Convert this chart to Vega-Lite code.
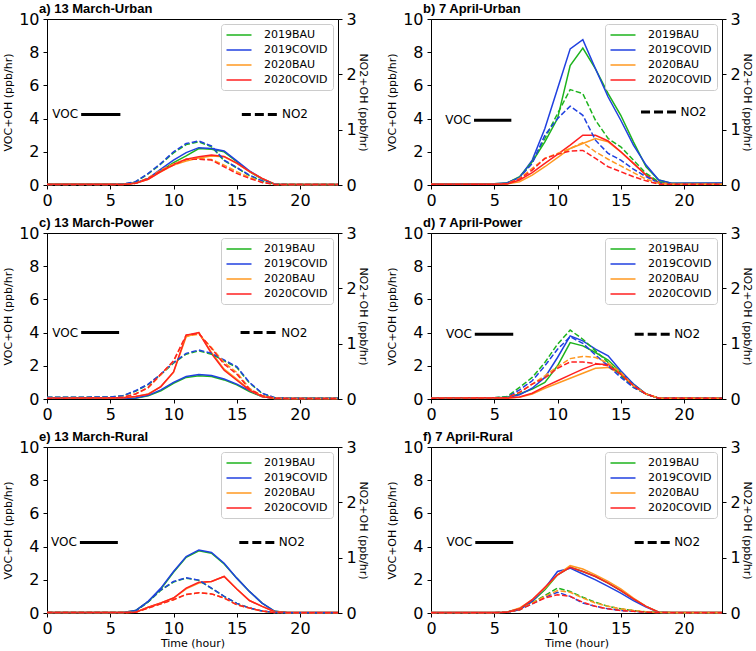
{
"$schema": "https://vega.github.io/schema/vega-lite/v6.json",
"padding": {"left": 2, "top": 2, "right": 0, "bottom": 0},
"columns": 2,
"spacing": {"row": 48, "column": 93},
"bounds": "flush",
"datasets": {
"voc": [
{"p":"a","h":0,"g":0.05,"b":0.05,"o":0.05,"r":0.05},
{"p":"a","h":5,"g":0.05,"b":0.05,"o":0.05,"r":0.05},
{"p":"a","h":6,"g":0.05,"b":0.05,"o":0.05,"r":0.05},
{"p":"a","h":7,"g":0.12,"b":0.12,"o":0.1,"r":0.1},
{"p":"a","h":8,"g":0.38,"b":0.4,"o":0.35,"r":0.35},
{"p":"a","h":9,"g":0.85,"b":0.95,"o":0.8,"r":0.8},
{"p":"a","h":10,"g":1.35,"b":1.5,"o":1.2,"r":1.25},
{"p":"a","h":11,"g":1.75,"b":1.95,"o":1.45,"r":1.55},
{"p":"a","h":12,"g":2.2,"b":2.25,"o":1.62,"r":1.7},
{"p":"a","h":13,"g":2.15,"b":2.2,"o":1.75,"r":1.8},
{"p":"a","h":14,"g":2.0,"b":2.05,"o":1.7,"r":1.72},
{"p":"a","h":15,"g":1.4,"b":1.45,"o":1.3,"r":1.32},
{"p":"a","h":16,"g":0.8,"b":0.85,"o":0.8,"r":0.82},
{"p":"a","h":17,"g":0.35,"b":0.38,"o":0.4,"r":0.4},
{"p":"a","h":18,"g":0.05,"b":0.05,"o":0.05,"r":0.05},
{"p":"a","h":19,"g":0.03,"b":0.03,"o":0.03,"r":0.03},
{"p":"a","h":23,"g":0.03,"b":0.03,"o":0.03,"r":0.03},
{"p":"b","h":0,"g":0.08,"b":0.08,"o":0.05,"r":0.05},
{"p":"b","h":5,"g":0.08,"b":0.08,"o":0.05,"r":0.05},
{"p":"b","h":6,"g":0.12,"b":0.12,"o":0.06,"r":0.06},
{"p":"b","h":7,"g":0.5,"b":0.45,"o":0.2,"r":0.3},
{"p":"b","h":8,"g":1.4,"b":1.5,"o":0.6,"r":0.75},
{"p":"b","h":9,"g":2.6,"b":3.4,"o":1.1,"r":1.3},
{"p":"b","h":10,"g":4.0,"b":5.8,"o":1.65,"r":1.85},
{"p":"b","h":11,"g":7.2,"b":8.2,"o":2.2,"r":2.4},
{"p":"b","h":12,"g":8.25,"b":8.75,"o":2.5,"r":3.0},
{"p":"b","h":13,"g":7.0,"b":7.0,"o":2.8,"r":3.0},
{"p":"b","h":14,"g":5.5,"b":5.3,"o":2.6,"r":2.65},
{"p":"b","h":15,"g":4.2,"b":3.9,"o":2.0,"r":2.0},
{"p":"b","h":16,"g":2.6,"b":2.4,"o":1.3,"r":1.3},
{"p":"b","h":17,"g":1.1,"b":1.2,"o":0.6,"r":0.6},
{"p":"b","h":18,"g":0.3,"b":0.3,"o":0.15,"r":0.15},
{"p":"b","h":19,"g":0.1,"b":0.1,"o":0.05,"r":0.05},
{"p":"b","h":23,"g":0.1,"b":0.12,"o":0.05,"r":0.05},
{"p":"c","h":0,"g":0.05,"b":0.05,"o":0.08,"r":0.08},
{"p":"c","h":5,"g":0.05,"b":0.05,"o":0.08,"r":0.08},
{"p":"c","h":6,"g":0.05,"b":0.05,"o":0.08,"r":0.08},
{"p":"c","h":7,"g":0.05,"b":0.06,"o":0.15,"r":0.15},
{"p":"c","h":8,"g":0.2,"b":0.22,"o":0.3,"r":0.28},
{"p":"c","h":9,"g":0.5,"b":0.55,"o":0.75,"r":0.75},
{"p":"c","h":10,"g":0.95,"b":1.0,"o":1.6,"r":1.63},
{"p":"c","h":11,"g":1.3,"b":1.35,"o":3.75,"r":3.85},
{"p":"c","h":12,"g":1.4,"b":1.48,"o":4.0,"r":4.0},
{"p":"c","h":13,"g":1.35,"b":1.42,"o":2.8,"r":2.73},
{"p":"c","h":14,"g":1.15,"b":1.2,"o":1.8,"r":1.73},
{"p":"c","h":15,"g":0.85,"b":0.9,"o":1.2,"r":1.13},
{"p":"c","h":16,"g":0.45,"b":0.5,"o":0.55,"r":0.53},
{"p":"c","h":17,"g":0.15,"b":0.15,"o":0.15,"r":0.15},
{"p":"c","h":18,"g":0.03,"b":0.03,"o":0.03,"r":0.03},
{"p":"c","h":19,"g":0.03,"b":0.03,"o":0.03,"r":0.03},
{"p":"c","h":23,"g":0.03,"b":0.03,"o":0.03,"r":0.03},
{"p":"d","h":0,"g":0.07,"b":0.07,"o":0.07,"r":0.07},
{"p":"d","h":5,"g":0.07,"b":0.07,"o":0.07,"r":0.07},
{"p":"d","h":6,"g":0.1,"b":0.08,"o":0.05,"r":0.05},
{"p":"d","h":7,"g":0.3,"b":0.25,"o":0.1,"r":0.12},
{"p":"d","h":8,"g":0.6,"b":0.65,"o":0.3,"r":0.35},
{"p":"d","h":9,"g":1.0,"b":1.3,"o":0.65,"r":0.75},
{"p":"d","h":10,"g":2.0,"b":2.5,"o":0.95,"r":1.1},
{"p":"d","h":11,"g":3.4,"b":3.8,"o":1.25,"r":1.45},
{"p":"d","h":12,"g":3.2,"b":3.5,"o":1.55,"r":1.8},
{"p":"d","h":13,"g":2.8,"b":3.0,"o":1.85,"r":2.1},
{"p":"d","h":14,"g":2.35,"b":2.6,"o":1.9,"r":2.1},
{"p":"d","h":15,"g":1.6,"b":1.7,"o":1.5,"r":1.5},
{"p":"d","h":16,"g":0.9,"b":0.9,"o":0.8,"r":0.8},
{"p":"d","h":17,"g":0.3,"b":0.3,"o":0.3,"r":0.3},
{"p":"d","h":18,"g":0.05,"b":0.05,"o":0.05,"r":0.05},
{"p":"d","h":19,"g":0.07,"b":0.07,"o":0.07,"r":0.07},
{"p":"d","h":23,"g":0.05,"b":0.05,"o":0.05,"r":0.05},
{"p":"e","h":0,"g":0.03,"b":0.03,"o":0.03,"r":0.03},
{"p":"e","h":5,"g":0.03,"b":0.03,"o":0.03,"r":0.03},
{"p":"e","h":6,"g":0.03,"b":0.03,"o":0.03,"r":0.03},
{"p":"e","h":7,"g":0.15,"b":0.15,"o":0.05,"r":0.05},
{"p":"e","h":8,"g":0.68,"b":0.7,"o":0.35,"r":0.35},
{"p":"e","h":9,"g":1.45,"b":1.5,"o":0.6,"r":0.6},
{"p":"e","h":10,"g":2.45,"b":2.5,"o":0.9,"r":0.9},
{"p":"e","h":11,"g":3.35,"b":3.4,"o":1.45,"r":1.5},
{"p":"e","h":12,"g":3.75,"b":3.8,"o":1.8,"r":1.85},
{"p":"e","h":13,"g":3.6,"b":3.65,"o":1.9,"r":1.9},
{"p":"e","h":14,"g":2.95,"b":3.0,"o":2.2,"r":2.2},
{"p":"e","h":15,"g":2.1,"b":2.1,"o":1.45,"r":1.45},
{"p":"e","h":16,"g":1.3,"b":1.3,"o":0.75,"r":0.75},
{"p":"e","h":17,"g":0.6,"b":0.6,"o":0.4,"r":0.4},
{"p":"e","h":18,"g":0.1,"b":0.1,"o":0.08,"r":0.08},
{"p":"e","h":19,"g":0.03,"b":0.03,"o":0.03,"r":0.03},
{"p":"e","h":23,"g":0.03,"b":0.03,"o":0.03,"r":0.03},
{"p":"f","h":0,"g":0.03,"b":0.03,"o":0.03,"r":0.03},
{"p":"f","h":5,"g":0.03,"b":0.03,"o":0.03,"r":0.03},
{"p":"f","h":6,"g":0.05,"b":0.05,"o":0.05,"r":0.05},
{"p":"f","h":7,"g":0.25,"b":0.2,"o":0.3,"r":0.25},
{"p":"f","h":8,"g":0.7,"b":0.7,"o":0.8,"r":0.8},
{"p":"f","h":9,"g":1.4,"b":1.5,"o":1.5,"r":1.55},
{"p":"f","h":10,"g":2.3,"b":2.5,"o":2.3,"r":2.3},
{"p":"f","h":11,"g":2.75,"b":2.7,"o":2.85,"r":2.75},
{"p":"f","h":12,"g":2.5,"b":2.35,"o":2.65,"r":2.5},
{"p":"f","h":13,"g":2.2,"b":2.0,"o":2.3,"r":2.2},
{"p":"f","h":14,"g":1.8,"b":1.6,"o":1.9,"r":1.8},
{"p":"f","h":15,"g":1.35,"b":1.2,"o":1.45,"r":1.35},
{"p":"f","h":16,"g":0.85,"b":0.75,"o":0.9,"r":0.85},
{"p":"f","h":17,"g":0.4,"b":0.35,"o":0.4,"r":0.4},
{"p":"f","h":18,"g":0.05,"b":0.05,"o":0.05,"r":0.05},
{"p":"f","h":19,"g":0.03,"b":0.03,"o":0.03,"r":0.03},
{"p":"f","h":23,"g":0.03,"b":0.03,"o":0.03,"r":0.03}
],
"no2": [
{"p":"a","h":0,"g":0.01,"b":0.01,"o":0.01,"r":0.01},
{"p":"a","h":5,"g":0.01,"b":0.01,"o":0.01,"r":0.01},
{"p":"a","h":6,"g":0.015,"b":0.015,"o":0.01,"r":0.01},
{"p":"a","h":7,"g":0.055,"b":0.06,"o":0.03,"r":0.03},
{"p":"a","h":8,"g":0.2,"b":0.21,"o":0.13,"r":0.12},
{"p":"a","h":9,"g":0.38,"b":0.39,"o":0.27,"r":0.255},
{"p":"a","h":10,"g":0.58,"b":0.6,"o":0.38,"r":0.36},
{"p":"a","h":11,"g":0.73,"b":0.75,"o":0.46,"r":0.465},
{"p":"a","h":12,"g":0.78,"b":0.795,"o":0.48,"r":0.465},
{"p":"a","h":13,"g":0.69,"b":0.705,"o":0.46,"r":0.45},
{"p":"a","h":14,"g":0.44,"b":0.45,"o":0.36,"r":0.33},
{"p":"a","h":15,"g":0.31,"b":0.315,"o":0.24,"r":0.21},
{"p":"a","h":16,"g":0.17,"b":0.18,"o":0.14,"r":0.12},
{"p":"a","h":17,"g":0.07,"b":0.075,"o":0.05,"r":0.045},
{"p":"a","h":18,"g":0.015,"b":0.015,"o":0.01,"r":0.01},
{"p":"a","h":19,"g":0.01,"b":0.01,"o":0.01,"r":0.01},
{"p":"a","h":23,"g":0.01,"b":0.01,"o":0.01,"r":0.01},
{"p":"b","h":0,"g":0.015,"b":0.015,"o":0.015,"r":0.015},
{"p":"b","h":5,"g":0.015,"b":0.015,"o":0.015,"r":0.015},
{"p":"b","h":6,"g":0.03,"b":0.03,"o":0.024,"r":0.024},
{"p":"b","h":7,"g":0.135,"b":0.135,"o":0.12,"r":0.105},
{"p":"b","h":8,"g":0.42,"b":0.39,"o":0.3,"r":0.27},
{"p":"b","h":9,"g":0.84,"b":0.9,"o":0.48,"r":0.48},
{"p":"b","h":10,"g":1.29,"b":1.2,"o":0.57,"r":0.555},
{"p":"b","h":11,"g":1.725,"b":1.425,"o":0.66,"r":0.615},
{"p":"b","h":12,"g":1.65,"b":1.26,"o":0.765,"r":0.624},
{"p":"b","h":13,"g":1.17,"b":0.81,"o":0.6,"r":0.48},
{"p":"b","h":14,"g":0.84,"b":0.57,"o":0.465,"r":0.33},
{"p":"b","h":15,"g":0.69,"b":0.45,"o":0.345,"r":0.24},
{"p":"b","h":16,"g":0.45,"b":0.285,"o":0.225,"r":0.15},
{"p":"b","h":17,"g":0.21,"b":0.15,"o":0.105,"r":0.075},
{"p":"b","h":18,"g":0.06,"b":0.036,"o":0.03,"r":0.015},
{"p":"b","h":19,"g":0.015,"b":0.015,"o":0.015,"r":0.015},
{"p":"b","h":23,"g":0.015,"b":0.015,"o":0.015,"r":0.015},
{"p":"c","h":0,"g":0.03,"b":0.03,"o":0.015,"r":0.015},
{"p":"c","h":5,"g":0.036,"b":0.036,"o":0.018,"r":0.018},
{"p":"c","h":6,"g":0.06,"b":0.06,"o":0.03,"r":0.03},
{"p":"c","h":7,"g":0.14,"b":0.15,"o":0.09,"r":0.09},
{"p":"c","h":8,"g":0.26,"b":0.27,"o":0.2,"r":0.21},
{"p":"c","h":9,"g":0.44,"b":0.45,"o":0.44,"r":0.45},
{"p":"c","h":10,"g":0.65,"b":0.66,"o":0.68,"r":0.69},
{"p":"c","h":11,"g":0.81,"b":0.825,"o":1.14,"r":1.155},
{"p":"c","h":12,"g":0.87,"b":0.885,"o":1.17,"r":1.185},
{"p":"c","h":13,"g":0.81,"b":0.825,"o":0.93,"r":0.915},
{"p":"c","h":14,"g":0.69,"b":0.705,"o":0.66,"r":0.63},
{"p":"c","h":15,"g":0.57,"b":0.585,"o":0.48,"r":0.45},
{"p":"c","h":16,"g":0.29,"b":0.3,"o":0.19,"r":0.18},
{"p":"c","h":17,"g":0.1,"b":0.105,"o":0.06,"r":0.06},
{"p":"c","h":18,"g":0.024,"b":0.024,"o":0.015,"r":0.015},
{"p":"c","h":19,"g":0.015,"b":0.015,"o":0.01,"r":0.01},
{"p":"c","h":23,"g":0.015,"b":0.015,"o":0.01,"r":0.01},
{"p":"d","h":0,"g":0.015,"b":0.015,"o":0.015,"r":0.015},
{"p":"d","h":5,"g":0.024,"b":0.024,"o":0.02,"r":0.02},
{"p":"d","h":6,"g":0.045,"b":0.03,"o":0.024,"r":0.024},
{"p":"d","h":7,"g":0.21,"b":0.165,"o":0.12,"r":0.12},
{"p":"d","h":8,"g":0.39,"b":0.33,"o":0.27,"r":0.27},
{"p":"d","h":9,"g":0.66,"b":0.6,"o":0.42,"r":0.38},
{"p":"d","h":10,"g":0.99,"b":0.9,"o":0.585,"r":0.555},
{"p":"d","h":11,"g":1.245,"b":1.125,"o":0.73,"r":0.67},
{"p":"d","h":12,"g":1.08,"b":1.005,"o":0.77,"r":0.67},
{"p":"d","h":13,"g":0.87,"b":0.795,"o":0.75,"r":0.64},
{"p":"d","h":14,"g":0.66,"b":0.6,"o":0.65,"r":0.6},
{"p":"d","h":15,"g":0.42,"b":0.39,"o":0.48,"r":0.45},
{"p":"d","h":16,"g":0.21,"b":0.21,"o":0.24,"r":0.24},
{"p":"d","h":17,"g":0.09,"b":0.09,"o":0.09,"r":0.09},
{"p":"d","h":18,"g":0.015,"b":0.015,"o":0.015,"r":0.015},
{"p":"d","h":19,"g":0.015,"b":0.015,"o":0.015,"r":0.015},
{"p":"d","h":23,"g":0.015,"b":0.015,"o":0.015,"r":0.015},
{"p":"e","h":0,"g":0.009,"b":0.009,"o":0.009,"r":0.009},
{"p":"e","h":5,"g":0.009,"b":0.009,"o":0.009,"r":0.009},
{"p":"e","h":6,"g":0.009,"b":0.009,"o":0.009,"r":0.009},
{"p":"e","h":7,"g":0.03,"b":0.03,"o":0.015,"r":0.015},
{"p":"e","h":8,"g":0.2,"b":0.21,"o":0.09,"r":0.09},
{"p":"e","h":9,"g":0.41,"b":0.42,"o":0.165,"r":0.165},
{"p":"e","h":10,"g":0.56,"b":0.57,"o":0.24,"r":0.24},
{"p":"e","h":11,"g":0.63,"b":0.636,"o":0.336,"r":0.336},
{"p":"e","h":12,"g":0.59,"b":0.594,"o":0.366,"r":0.366},
{"p":"e","h":13,"g":0.445,"b":0.45,"o":0.345,"r":0.345},
{"p":"e","h":14,"g":0.3,"b":0.3,"o":0.27,"r":0.27},
{"p":"e","h":15,"g":0.174,"b":0.174,"o":0.15,"r":0.15},
{"p":"e","h":16,"g":0.09,"b":0.09,"o":0.09,"r":0.09},
{"p":"e","h":17,"g":0.036,"b":0.036,"o":0.036,"r":0.036},
{"p":"e","h":18,"g":0.009,"b":0.009,"o":0.009,"r":0.009},
{"p":"e","h":19,"g":0.006,"b":0.006,"o":0.006,"r":0.006},
{"p":"e","h":23,"g":0.006,"b":0.006,"o":0.006,"r":0.006},
{"p":"f","h":0,"g":0.006,"b":0.006,"o":0.006,"r":0.006},
{"p":"f","h":5,"g":0.006,"b":0.006,"o":0.006,"r":0.006},
{"p":"f","h":6,"g":0.015,"b":0.015,"o":0.015,"r":0.015},
{"p":"f","h":7,"g":0.06,"b":0.06,"o":0.06,"r":0.06},
{"p":"f","h":8,"g":0.18,"b":0.165,"o":0.18,"r":0.165},
{"p":"f","h":9,"g":0.315,"b":0.285,"o":0.3,"r":0.27},
{"p":"f","h":10,"g":0.45,"b":0.375,"o":0.405,"r":0.33},
{"p":"f","h":11,"g":0.39,"b":0.3,"o":0.375,"r":0.3},
{"p":"f","h":12,"g":0.285,"b":0.18,"o":0.27,"r":0.195},
{"p":"f","h":13,"g":0.195,"b":0.12,"o":0.18,"r":0.12},
{"p":"f","h":14,"g":0.12,"b":0.075,"o":0.12,"r":0.075},
{"p":"f","h":15,"g":0.075,"b":0.045,"o":0.075,"r":0.045},
{"p":"f","h":16,"g":0.045,"b":0.03,"o":0.045,"r":0.03},
{"p":"f","h":17,"g":0.021,"b":0.015,"o":0.021,"r":0.015},
{"p":"f","h":18,"g":0.009,"b":0.009,"o":0.009,"r":0.009},
{"p":"f","h":19,"g":0.006,"b":0.006,"o":0.006,"r":0.006},
{"p":"f","h":23,"g":0.006,"b":0.006,"o":0.006,"r":0.006}
]
},
"concat": [
{"width": 291, "height": 166, "title": {"text": "a) 13 March-Urban"},
 "layer": [
  {"data": {"name": "voc"}, "transform": [{"filter": "datum.p == 'a'"}, {"fold": ["g","b","o","r"], "as": ["series","value"]}],
   "mark": {"type": "line", "strokeWidth": 1.5},
   "encoding": {"x": {"field": "h", "type": "quantitative", "scale": {"domain": [0, 23], "nice": false}, "axis": {"values": [0,5,10,15,20], "title": null}},
    "y": {"field": "value", "type": "quantitative", "scale": {"domain": [0, 10], "nice": false}, "axis": {"orient": "left", "values": [0,2,4,6,8,10], "title": "VOC+OH (ppb/hr)"}},
    "color": {"field": "series", "type": "nominal", "scale": {"domain": ["g","b","o","r"], "range": ["#1db31d","#2040e0","#ff9820","#ff2020"]}, "legend": {"orient": "top-right", "labelExpr": "{'g':'2019BAU','b':'2019COVID','o':'2020BAU','r':'2020COVID'}[datum.label]"}}}},
  {"data": {"name": "no2"}, "transform": [{"filter": "datum.p == 'a'"}, {"fold": ["g","b","o","r"], "as": ["series","value"]}],
   "mark": {"type": "line", "strokeWidth": 1.5, "strokeDash": [5.5, 2.4]},
   "encoding": {"x": {"field": "h", "type": "quantitative", "title": null},
    "y": {"field": "value", "type": "quantitative", "scale": {"domain": [0, 3], "nice": false}, "axis": {"orient": "right", "values": [0,1,2,3], "title": "NO2+OH (ppb/hr)"}},
    "color": {"field": "series", "type": "nominal", "legend": null}}},
  {"data": {"values": [{}]}, "mark": {"type": "rule", "strokeWidth": 3, "color": "black"},
   "encoding": {"x": {"datum": 2.7, "type": "quantitative"}, "x2": {"datum": 5.8}, "y": {"datum": 4.25, "type": "quantitative", "scale": {"domain": [0, 10], "nice": false}, "axis": null}}},
  {"data": {"values": [{}]}, "mark": {"type": "rule", "strokeWidth": 3, "color": "black", "strokeDash": [9, 4]},
   "encoding": {"x": {"datum": 15.4, "type": "quantitative"}, "x2": {"datum": 18.25}, "y": {"datum": 4.25, "type": "quantitative", "scale": {"domain": [0, 10], "nice": false}, "axis": null}}},
  {"data": {"values": [{}]}, "mark": {"type": "text", "align": "right", "baseline": "middle", "dx": -3},
   "encoding": {"x": {"datum": 2.7, "type": "quantitative"}, "y": {"datum": 4.25, "type": "quantitative", "scale": {"domain": [0, 10], "nice": false}, "axis": null}, "text": {"value": "VOC"}}},
  {"data": {"values": [{}]}, "mark": {"type": "text", "align": "left", "baseline": "middle", "dx": 4},
   "encoding": {"x": {"datum": 18.25, "type": "quantitative"}, "y": {"datum": 4.25, "type": "quantitative", "scale": {"domain": [0, 10], "nice": false}, "axis": null}, "text": {"value": "NO2"}}}
 ],
 "resolve": {"scale": {"y": "independent"}}},
{"width": 291, "height": 166, "title": {"text": "b) 7 April-Urban"},
 "layer": [
  {"data": {"name": "voc"}, "transform": [{"filter": "datum.p == 'b'"}, {"fold": ["g","b","o","r"], "as": ["series","value"]}],
   "mark": {"type": "line", "strokeWidth": 1.5},
   "encoding": {"x": {"field": "h", "type": "quantitative", "scale": {"domain": [0, 23], "nice": false}, "axis": {"values": [0,5,10,15,20], "title": null}},
    "y": {"field": "value", "type": "quantitative", "scale": {"domain": [0, 10], "nice": false}, "axis": {"orient": "left", "values": [0,2,4,6,8,10], "title": "VOC+OH (ppb/hr)"}},
    "color": {"field": "series", "type": "nominal", "scale": {"domain": ["g","b","o","r"], "range": ["#1db31d","#2040e0","#ff9820","#ff2020"]}, "legend": {"orient": "top-right", "labelExpr": "{'g':'2019BAU','b':'2019COVID','o':'2020BAU','r':'2020COVID'}[datum.label]"}}}},
  {"data": {"name": "no2"}, "transform": [{"filter": "datum.p == 'b'"}, {"fold": ["g","b","o","r"], "as": ["series","value"]}],
   "mark": {"type": "line", "strokeWidth": 1.5, "strokeDash": [5.5, 2.4]},
   "encoding": {"x": {"field": "h", "type": "quantitative", "title": null},
    "y": {"field": "value", "type": "quantitative", "scale": {"domain": [0, 3], "nice": false}, "axis": {"orient": "right", "values": [0,1,2,3], "title": "NO2+OH (ppb/hr)"}},
    "color": {"field": "series", "type": "nominal", "legend": null}}},
  {"data": {"values": [{}]}, "mark": {"type": "rule", "strokeWidth": 3, "color": "black"},
   "encoding": {"x": {"datum": 3.4, "type": "quantitative"}, "x2": {"datum": 6.35}, "y": {"datum": 3.9, "type": "quantitative", "scale": {"domain": [0, 10], "nice": false}, "axis": null}}},
  {"data": {"values": [{}]}, "mark": {"type": "rule", "strokeWidth": 3, "color": "black", "strokeDash": [9, 4]},
   "encoding": {"x": {"datum": 16.6, "type": "quantitative"}, "x2": {"datum": 19.4}, "y": {"datum": 4.4, "type": "quantitative", "scale": {"domain": [0, 10], "nice": false}, "axis": null}}},
  {"data": {"values": [{}]}, "mark": {"type": "text", "align": "right", "baseline": "middle", "dx": -3},
   "encoding": {"x": {"datum": 3.4, "type": "quantitative"}, "y": {"datum": 3.9, "type": "quantitative", "scale": {"domain": [0, 10], "nice": false}, "axis": null}, "text": {"value": "VOC"}}},
  {"data": {"values": [{}]}, "mark": {"type": "text", "align": "left", "baseline": "middle", "dx": 4},
   "encoding": {"x": {"datum": 19.4, "type": "quantitative"}, "y": {"datum": 4.4, "type": "quantitative", "scale": {"domain": [0, 10], "nice": false}, "axis": null}, "text": {"value": "NO2"}}}
 ],
 "resolve": {"scale": {"y": "independent"}}},
{"width": 291, "height": 166, "title": {"text": "c) 13 March-Power"},
 "layer": [
  {"data": {"name": "voc"}, "transform": [{"filter": "datum.p == 'c'"}, {"fold": ["g","b","o","r"], "as": ["series","value"]}],
   "mark": {"type": "line", "strokeWidth": 1.5},
   "encoding": {"x": {"field": "h", "type": "quantitative", "scale": {"domain": [0, 23], "nice": false}, "axis": {"values": [0,5,10,15,20], "title": null}},
    "y": {"field": "value", "type": "quantitative", "scale": {"domain": [0, 10], "nice": false}, "axis": {"orient": "left", "values": [0,2,4,6,8,10], "title": "VOC+OH (ppb/hr)"}},
    "color": {"field": "series", "type": "nominal", "scale": {"domain": ["g","b","o","r"], "range": ["#1db31d","#2040e0","#ff9820","#ff2020"]}, "legend": {"orient": "top-right", "labelExpr": "{'g':'2019BAU','b':'2019COVID','o':'2020BAU','r':'2020COVID'}[datum.label]"}}}},
  {"data": {"name": "no2"}, "transform": [{"filter": "datum.p == 'c'"}, {"fold": ["g","b","o","r"], "as": ["series","value"]}],
   "mark": {"type": "line", "strokeWidth": 1.5, "strokeDash": [5.5, 2.4]},
   "encoding": {"x": {"field": "h", "type": "quantitative", "title": null},
    "y": {"field": "value", "type": "quantitative", "scale": {"domain": [0, 3], "nice": false}, "axis": {"orient": "right", "values": [0,1,2,3], "title": "NO2+OH (ppb/hr)"}},
    "color": {"field": "series", "type": "nominal", "legend": null}}},
  {"data": {"values": [{}]}, "mark": {"type": "rule", "strokeWidth": 3, "color": "black"},
   "encoding": {"x": {"datum": 2.7, "type": "quantitative"}, "x2": {"datum": 5.7}, "y": {"datum": 4.0, "type": "quantitative", "scale": {"domain": [0, 10], "nice": false}, "axis": null}}},
  {"data": {"values": [{}]}, "mark": {"type": "rule", "strokeWidth": 3, "color": "black", "strokeDash": [9, 4]},
   "encoding": {"x": {"datum": 15.3, "type": "quantitative"}, "x2": {"datum": 18.2}, "y": {"datum": 4.0, "type": "quantitative", "scale": {"domain": [0, 10], "nice": false}, "axis": null}}},
  {"data": {"values": [{}]}, "mark": {"type": "text", "align": "right", "baseline": "middle", "dx": -3},
   "encoding": {"x": {"datum": 2.7, "type": "quantitative"}, "y": {"datum": 4.0, "type": "quantitative", "scale": {"domain": [0, 10], "nice": false}, "axis": null}, "text": {"value": "VOC"}}},
  {"data": {"values": [{}]}, "mark": {"type": "text", "align": "left", "baseline": "middle", "dx": 4},
   "encoding": {"x": {"datum": 18.2, "type": "quantitative"}, "y": {"datum": 4.0, "type": "quantitative", "scale": {"domain": [0, 10], "nice": false}, "axis": null}, "text": {"value": "NO2"}}}
 ],
 "resolve": {"scale": {"y": "independent"}}},
{"width": 291, "height": 166, "title": {"text": "d) 7 April-Power"},
 "layer": [
  {"data": {"name": "voc"}, "transform": [{"filter": "datum.p == 'd'"}, {"fold": ["g","b","o","r"], "as": ["series","value"]}],
   "mark": {"type": "line", "strokeWidth": 1.5},
   "encoding": {"x": {"field": "h", "type": "quantitative", "scale": {"domain": [0, 23], "nice": false}, "axis": {"values": [0,5,10,15,20], "title": null}},
    "y": {"field": "value", "type": "quantitative", "scale": {"domain": [0, 10], "nice": false}, "axis": {"orient": "left", "values": [0,2,4,6,8,10], "title": "VOC+OH (ppb/hr)"}},
    "color": {"field": "series", "type": "nominal", "scale": {"domain": ["g","b","o","r"], "range": ["#1db31d","#2040e0","#ff9820","#ff2020"]}, "legend": {"orient": "top-right", "labelExpr": "{'g':'2019BAU','b':'2019COVID','o':'2020BAU','r':'2020COVID'}[datum.label]"}}}},
  {"data": {"name": "no2"}, "transform": [{"filter": "datum.p == 'd'"}, {"fold": ["g","b","o","r"], "as": ["series","value"]}],
   "mark": {"type": "line", "strokeWidth": 1.5, "strokeDash": [5.5, 2.4]},
   "encoding": {"x": {"field": "h", "type": "quantitative", "title": null},
    "y": {"field": "value", "type": "quantitative", "scale": {"domain": [0, 3], "nice": false}, "axis": {"orient": "right", "values": [0,1,2,3], "title": "NO2+OH (ppb/hr)"}},
    "color": {"field": "series", "type": "nominal", "legend": null}}},
  {"data": {"values": [{}]}, "mark": {"type": "rule", "strokeWidth": 3, "color": "black"},
   "encoding": {"x": {"datum": 3.46, "type": "quantitative"}, "x2": {"datum": 6.5}, "y": {"datum": 3.9, "type": "quantitative", "scale": {"domain": [0, 10], "nice": false}, "axis": null}}},
  {"data": {"values": [{}]}, "mark": {"type": "rule", "strokeWidth": 3, "color": "black", "strokeDash": [9, 4]},
   "encoding": {"x": {"datum": 16.1, "type": "quantitative"}, "x2": {"datum": 18.9}, "y": {"datum": 3.9, "type": "quantitative", "scale": {"domain": [0, 10], "nice": false}, "axis": null}}},
  {"data": {"values": [{}]}, "mark": {"type": "text", "align": "right", "baseline": "middle", "dx": -3},
   "encoding": {"x": {"datum": 3.46, "type": "quantitative"}, "y": {"datum": 3.9, "type": "quantitative", "scale": {"domain": [0, 10], "nice": false}, "axis": null}, "text": {"value": "VOC"}}},
  {"data": {"values": [{}]}, "mark": {"type": "text", "align": "left", "baseline": "middle", "dx": 4},
   "encoding": {"x": {"datum": 18.9, "type": "quantitative"}, "y": {"datum": 3.9, "type": "quantitative", "scale": {"domain": [0, 10], "nice": false}, "axis": null}, "text": {"value": "NO2"}}}
 ],
 "resolve": {"scale": {"y": "independent"}}},
{"width": 291, "height": 166, "title": {"text": "e) 13 March-Rural"},
 "layer": [
  {"data": {"name": "voc"}, "transform": [{"filter": "datum.p == 'e'"}, {"fold": ["g","b","o","r"], "as": ["series","value"]}],
   "mark": {"type": "line", "strokeWidth": 1.5},
   "encoding": {"x": {"field": "h", "type": "quantitative", "scale": {"domain": [0, 23], "nice": false}, "axis": {"values": [0,5,10,15,20], "title": "Time (hour)"}},
    "y": {"field": "value", "type": "quantitative", "scale": {"domain": [0, 10], "nice": false}, "axis": {"orient": "left", "values": [0,2,4,6,8,10], "title": "VOC+OH (ppb/hr)"}},
    "color": {"field": "series", "type": "nominal", "scale": {"domain": ["g","b","o","r"], "range": ["#1db31d","#2040e0","#ff9820","#ff2020"]}, "legend": {"orient": "top-right", "labelExpr": "{'g':'2019BAU','b':'2019COVID','o':'2020BAU','r':'2020COVID'}[datum.label]"}}}},
  {"data": {"name": "no2"}, "transform": [{"filter": "datum.p == 'e'"}, {"fold": ["g","b","o","r"], "as": ["series","value"]}],
   "mark": {"type": "line", "strokeWidth": 1.5, "strokeDash": [5.5, 2.4]},
   "encoding": {"x": {"field": "h", "type": "quantitative", "title": "Time (hour)"},
    "y": {"field": "value", "type": "quantitative", "scale": {"domain": [0, 3], "nice": false}, "axis": {"orient": "right", "values": [0,1,2,3], "title": "NO2+OH (ppb/hr)"}},
    "color": {"field": "series", "type": "nominal", "legend": null}}},
  {"data": {"values": [{}]}, "mark": {"type": "rule", "strokeWidth": 3, "color": "black"},
   "encoding": {"x": {"datum": 2.6, "type": "quantitative"}, "x2": {"datum": 5.6}, "y": {"datum": 4.25, "type": "quantitative", "scale": {"domain": [0, 10], "nice": false}, "axis": null}}},
  {"data": {"values": [{}]}, "mark": {"type": "rule", "strokeWidth": 3, "color": "black", "strokeDash": [9, 4]},
   "encoding": {"x": {"datum": 15.2, "type": "quantitative"}, "x2": {"datum": 18.0}, "y": {"datum": 4.25, "type": "quantitative", "scale": {"domain": [0, 10], "nice": false}, "axis": null}}},
  {"data": {"values": [{}]}, "mark": {"type": "text", "align": "right", "baseline": "middle", "dx": -3},
   "encoding": {"x": {"datum": 2.6, "type": "quantitative"}, "y": {"datum": 4.25, "type": "quantitative", "scale": {"domain": [0, 10], "nice": false}, "axis": null}, "text": {"value": "VOC"}}},
  {"data": {"values": [{}]}, "mark": {"type": "text", "align": "left", "baseline": "middle", "dx": 4},
   "encoding": {"x": {"datum": 18.0, "type": "quantitative"}, "y": {"datum": 4.25, "type": "quantitative", "scale": {"domain": [0, 10], "nice": false}, "axis": null}, "text": {"value": "NO2"}}}
 ],
 "resolve": {"scale": {"y": "independent"}}},
{"width": 291, "height": 166, "title": {"text": "f) 7 April-Rural"},
 "layer": [
  {"data": {"name": "voc"}, "transform": [{"filter": "datum.p == 'f'"}, {"fold": ["g","b","o","r"], "as": ["series","value"]}],
   "mark": {"type": "line", "strokeWidth": 1.5},
   "encoding": {"x": {"field": "h", "type": "quantitative", "scale": {"domain": [0, 23], "nice": false}, "axis": {"values": [0,5,10,15,20], "title": "Time (hour)"}},
    "y": {"field": "value", "type": "quantitative", "scale": {"domain": [0, 10], "nice": false}, "axis": {"orient": "left", "values": [0,2,4,6,8,10], "title": "VOC+OH (ppb/hr)"}},
    "color": {"field": "series", "type": "nominal", "scale": {"domain": ["g","b","o","r"], "range": ["#1db31d","#2040e0","#ff9820","#ff2020"]}, "legend": {"orient": "top-right", "labelExpr": "{'g':'2019BAU','b':'2019COVID','o':'2020BAU','r':'2020COVID'}[datum.label]"}}}},
  {"data": {"name": "no2"}, "transform": [{"filter": "datum.p == 'f'"}, {"fold": ["g","b","o","r"], "as": ["series","value"]}],
   "mark": {"type": "line", "strokeWidth": 1.5, "strokeDash": [5.5, 2.4]},
   "encoding": {"x": {"field": "h", "type": "quantitative", "title": "Time (hour)"},
    "y": {"field": "value", "type": "quantitative", "scale": {"domain": [0, 3], "nice": false}, "axis": {"orient": "right", "values": [0,1,2,3], "title": "NO2+OH (ppb/hr)"}},
    "color": {"field": "series", "type": "nominal", "legend": null}}},
  {"data": {"values": [{}]}, "mark": {"type": "rule", "strokeWidth": 3, "color": "black"},
   "encoding": {"x": {"datum": 3.5, "type": "quantitative"}, "x2": {"datum": 6.5}, "y": {"datum": 4.25, "type": "quantitative", "scale": {"domain": [0, 10], "nice": false}, "axis": null}}},
  {"data": {"values": [{}]}, "mark": {"type": "rule", "strokeWidth": 3, "color": "black", "strokeDash": [9, 4]},
   "encoding": {"x": {"datum": 16.1, "type": "quantitative"}, "x2": {"datum": 18.9}, "y": {"datum": 4.25, "type": "quantitative", "scale": {"domain": [0, 10], "nice": false}, "axis": null}}},
  {"data": {"values": [{}]}, "mark": {"type": "text", "align": "right", "baseline": "middle", "dx": -3},
   "encoding": {"x": {"datum": 3.5, "type": "quantitative"}, "y": {"datum": 4.25, "type": "quantitative", "scale": {"domain": [0, 10], "nice": false}, "axis": null}, "text": {"value": "VOC"}}},
  {"data": {"values": [{}]}, "mark": {"type": "text", "align": "left", "baseline": "middle", "dx": 4},
   "encoding": {"x": {"datum": 18.9, "type": "quantitative"}, "y": {"datum": 4.25, "type": "quantitative", "scale": {"domain": [0, 10], "nice": false}, "axis": null}, "text": {"value": "NO2"}}}
 ],
 "resolve": {"scale": {"y": "independent"}}}
],
"resolve": {"scale": {"color": "independent"}, "legend": {"color": "independent"}},
"config": {
 "background": "white",
 "view": {"stroke": "black", "strokeWidth": 1},
 "axis": {"grid": false, "labelFont": "DejaVu Sans", "labelFontSize": 16, "labelColor": "black", "tickColor": "black", "domainColor": "black", "tickSize": 4, "labelPadding": 4, "titleFont": "DejaVu Sans", "titleFontSize": 11, "titleFontWeight": "normal", "titleColor": "black", "titlePadding": 5, "labelFlush": false, "labelOverlap": false},
 "axisRight": {"titlePadding": 1},
 "axisBottom": {"titlePadding": 1, "labelPadding": 3},
 "title": {"font": "Liberation Sans", "fontSize": 13, "fontWeight": "bold", "anchor": "start", "frame": "group", "dx": -8, "offset": -5, "color": "black"},
 "legend": {"title": null, "offset": 5, "padding": 5, "strokeColor": "#cccccc", "fillColor": "white", "cornerRadius": 3, "labelFont": "DejaVu Sans", "labelFontSize": 11, "labelColor": "black", "symbolType": "M-2.5,0H2.5", "symbolSize": 100, "symbolOffset": 7, "symbolStrokeWidth": 1.5, "symbolDash": [100, 0], "rowPadding": 4, "labelOffset": 19},
 "text": {"font": "DejaVu Sans", "fontSize": 12, "color": "black"}
}
}
